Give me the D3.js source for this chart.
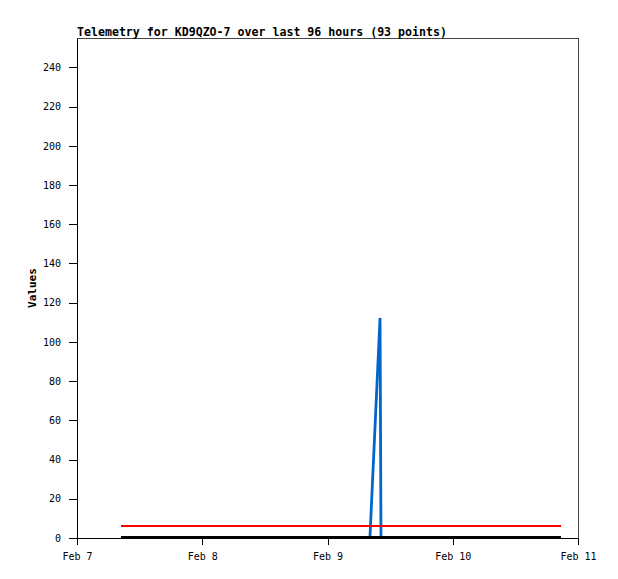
<!DOCTYPE html>
<html>
<head>
<meta charset="utf-8">
<script src="https://cdn.jsdelivr.net/npm/d3@7"></script>
<style>
  html, body { margin: 0; padding: 0; background: #fff; }
  svg { display: block; }
</style>
</head>
<body>
<svg id="chart" width="618" height="579"></svg>
<script>
// ---- data ----
const title = "Telemetry for KD9QZO-7 over last 96 hours (93 points)";
const yLabel = "Values";
const times = ["2024-02-07T08:26", "2024-02-09T08:08", "2024-02-09T10:04", "2024-02-09T10:15", "2024-02-10T20:44"];
const blueValues  = [0, 0, 112, 0, 0];
const redValues   = [6, 6, 6, 6, 6];
const blackValues = [0, 0, 0, 0, 0];
const yTicks = [0, 20, 40, 60, 80, 100, 120, 140, 160, 180, 200, 220, 240];
const xTickDates = ["2024-02-07", "2024-02-08", "2024-02-09", "2024-02-10", "2024-02-11"];
const xTickLabels = ["Feb 7", "Feb 8", "Feb 9", "Feb 10", "Feb 11"];
const yMax = 255;

// ---- drawing ----
const svg = d3.select("#chart");
const W = 618, H = 579;
const m = { left: 77, right: 40, top: 38, bottom: 41 };
const parseT = d3.timeParse("%Y-%m-%dT%H:%M");
const parseD = d3.timeParse("%Y-%m-%d");
const tickDates = xTickDates.map(parseD);

const x = d3.scaleTime()
  .domain([tickDates[0], tickDates[tickDates.length - 1]])
  .range([m.left, W - m.right]);
const y = d3.scaleLinear().domain([0, yMax]).range([H - m.bottom, m.top]);

const pts = times.map(parseT);
const monoFont = "'DejaVu Sans Mono', monospace";

// series (drawn first; axes on top)
const mkLine = vals => d3.line().x((d, i) => x(pts[i])).y((d) => y(d))(vals);
const series = [
  { vals: blueValues,  color: "#0066cc", w: 2.8, dy: -0.5, sr: "geometricPrecision" },
  { vals: redValues,   color: "#ff0000", w: 2.5, dy: 0, sr: "crispEdges" },
  { vals: blackValues, color: "#000000", w: 3, dy: -0.5, sr: "crispEdges" }
];
series.forEach(s => {
  svg.append("path")
    .attr("d", mkLine(s.vals))
    .attr("transform", `translate(0,${s.dy})`)
    .attr("fill", "none")
    .attr("stroke", s.color)
    .attr("stroke-width", s.w)
    .attr("stroke-linejoin", "miter")
    .attr("stroke-miterlimit", 20)
    .attr("shape-rendering", s.sr);
});

// frame (top and right)
svg.append("path")
  .attr("d", `M${m.left},${m.top + 0.5}H${W - m.right + 0.5}V${H - m.bottom}`)
  .attr("fill", "none").attr("stroke", "#444").attr("stroke-width", 1)
  .attr("shape-rendering", "crispEdges");

// y axis
const yAxis = d3.axisLeft(y).tickValues(yTicks).tickSize(8).tickPadding(8).tickSizeOuter(0);
const gy = svg.append("g").attr("transform", `translate(${m.left},0)`).call(yAxis);
gy.selectAll("text").attr("font-family", monoFont).attr("font-size", 10).attr("fill", "#000");

// x axis
const xAxis = d3.axisBottom(x).tickValues(tickDates)
  .tickFormat((d, i) => xTickLabels[i]).tickSize(7).tickPadding(8).tickSizeOuter(0);
const gx = svg.append("g").attr("transform", `translate(0,${H - m.bottom})`).call(xAxis);
gx.selectAll("text").attr("font-family", monoFont).attr("font-size", 10).attr("fill", "#000");

[gx, gy].forEach(g => {
  g.selectAll("path.domain, line").attr("stroke", "#000").attr("shape-rendering", "crispEdges");
});

// title
svg.append("text")
  .attr("x", 77).attr("y", 35.5)
  .attr("font-family", monoFont).attr("font-weight", "bold").attr("font-size", 11.6)
  .attr("fill", "#000")
  .text(title);

// y label
svg.append("text")
  .attr("transform", `translate(36,${(m.top + H - m.bottom) / 2}) rotate(-90)`)
  .attr("text-anchor", "middle")
  .attr("font-family", monoFont).attr("font-weight", "bold").attr("font-size", 11)
  .attr("fill", "#000")
  .text(yLabel);
</script>
</body>
</html>
